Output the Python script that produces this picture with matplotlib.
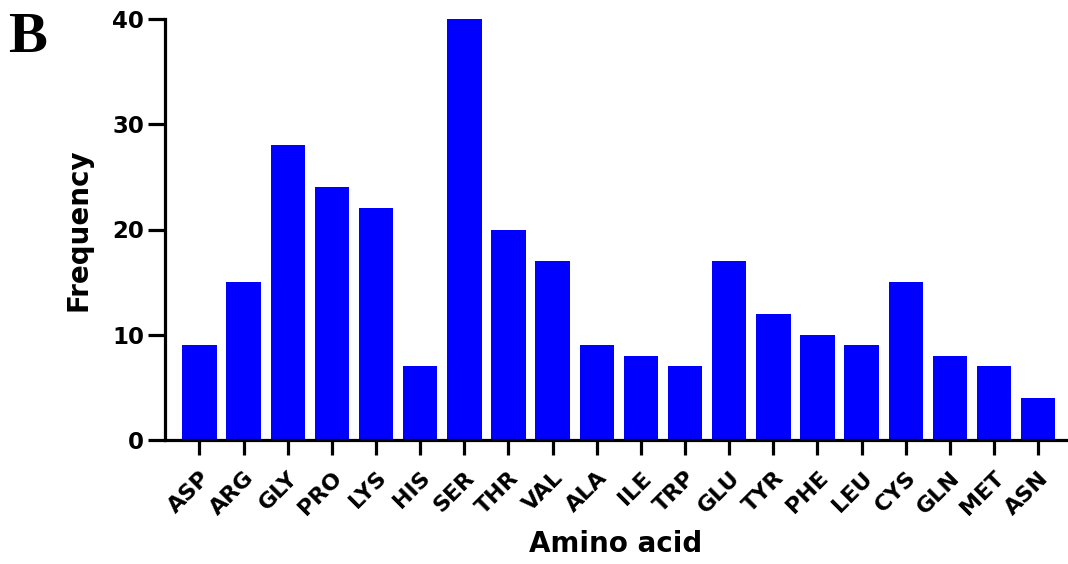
import matplotlib.pyplot as plt
import matplotlib.transforms as mtransforms

amino_acids = ['ASP', 'ARG', 'GLY', 'PRO', 'LYS', 'HIS', 'SER', 'THR', 'VAL', 'ALA',
               'ILE', 'TRP', 'GLU', 'TYR', 'PHE', 'LEU', 'CYS', 'GLN', 'MET', 'ASN']
frequency = [9, 15, 28, 24, 22, 7, 40, 20, 17, 9, 8, 7, 17, 12, 10, 9, 15, 8, 7, 4]
y_ticks = [0, 10, 20, 30, 40]

plt.rcParams['font.family'] = ['DejaVu Sans']

fig = plt.figure(figsize=(10.68, 5.64), dpi=100)
ax = fig.add_axes([165 / 1068, 1 - 440 / 564, (1066 - 165) / 1068, (440 - 19) / 564])

x = list(range(len(amino_acids)))
ax.bar(x, frequency, width=0.78, color='#0000FF', edgecolor='none')

ax.set_xlim(-0.78, len(amino_acids) - 1 + 0.63)
ax.set_ylim(0, 40)
ax.set_yticks(y_ticks)
ax.set_xticks(x)
ax.set_xticklabels(amino_acids, rotation=45, ha='right', rotation_mode='anchor',
                   fontsize=16, fontweight='bold')
# nudge the rotated labels a little to the left, like the original
shift = mtransforms.ScaledTranslation(-7 / 100, 0, fig.dpi_scale_trans)
for lab in ax.get_xticklabels():
    lab.set_transform(lab.get_transform() + shift)
for lab in ax.get_yticklabels():
    lab.set_fontsize(16.5)
    lab.set_fontweight('bold')

for side in ['top', 'right']:
    ax.spines[side].set_visible(False)
for side in ['left', 'bottom']:
    ax.spines[side].set_linewidth(2.3)
ax.tick_params(axis='y', length=12, width=2.3, pad=3)
ax.tick_params(axis='x', length=11, width=2.3, pad=9)

ax.set_ylabel('Frequency', fontsize=20, fontweight='bold', labelpad=14)
ax.set_xlabel('Amino acid', fontsize=20, fontweight='bold', labelpad=8)

fig.text(0.008, 0.978, 'B', fontsize=42, fontweight='bold',
         family=['Liberation Serif', 'DejaVu Serif'], va='top', ha='left')

fig.savefig('out.png', dpi=100)
